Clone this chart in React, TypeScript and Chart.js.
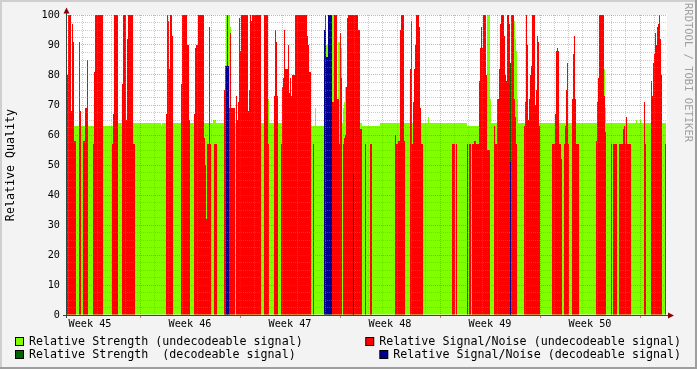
import React, { useEffect, useRef } from "react";
import { Chart, registerables } from "chart.js";

Chart.register(...registerables);

type Run = [number, number | null];

// ---- text ----
const weekLabels: string[] = ["Week 45", "Week 46", "Week 47", "Week 48", "Week 49", "Week 50"];
const yAxisTitle = "Relative Quality";
const watermarkText = "RRDTOOL / TOBI OETIKER";
const seriesNames: string[] = [
  "Relative Strength (undecodeable signal)",
  "Relative Signal/Noise (undecodeable signal)",
  "Relative Strength  (decodeable signal)",
  "Relative Signal/Noise (decodeable signal)",
];

// ---- data: run-length lists [number of samples, value] (null = no data) ----
const strengthUndecodeable: Run[] = [
  [46, 63], [48, 64], [1, 63], [51, 64], [3, 65], [10, 64], [4, 100], [1, 96], [37, 64], [1, 72],
  [42, 64], [4, 63], [1, 69], [10, 63], [2, 90], [4, 63], [2, 100], [4, 64], [2, 91], [1, 94],
  [1, 89], [1, 64], [1, 69], [1, 71], [1, 76], [16, 64], [18, 63], [48, 64], [1, 66], [38, 64],
  [20, 63], [3, 100], [1, 72], [23, 64], [1, 98], [1, 92], [1, 88], [1, 72], [86, 64], [1, 82],
  [1, 69], [30, 64], [1, 65], [3, 64], [1, 65], [25, 64], [1, null],
];

const snrUndecodeable: Run[] = [
  [1, 80], [3, 100], [1, 68], [1, 97], [1, 91], [2, 58], [3, null], [1, 91], [1, 68], [2, null],
  [2, 58], [2, 69], [1, 85], [5, null], [1, 57], [1, 81], [8, 100], [9, null], [1, 57], [1, 67],
  [4, 100], [4, null], [1, 77], [3, 100], [1, 65], [1, 92], [5, 100], [2, 57], [31, null],
  [1, 67], [1, 100], [1, 98], [1, 82], [2, 100], [1, 93], [8, null], [1, 77], [5, 100], [1, 90],
  [1, 90], [1, 65], [4, null], [1, 67], [1, 89], [2, 90], [6, 100], [1, 59], [1, 50], [1, 32],
  [2, 57], [1, 96], [1, 57], [3, null], [3, 57], [7, null], [2, 75], [3, null], [1, 69], [1, 94],
  [4, 69], [1, null], [1, 73], [1, 65], [1, 71], [1, 99], [1, 88], [7, 100], [1, 68], [1, 75],
  [1, 100], [1, 98], [9, 100], [3, null], [4, 100], [1, 57], [5, null], [1, 73], [1, 95], [1, 91],
  [1, 73], [3, null], [1, 57], [1, 76], [1, 79], [1, 95], [3, 82], [1, 90], [1, 74], [1, 79],
  [1, 73], [3, 80], [12, 100], [1, 93], [1, 90], [2, 81], [2, null], [1, 57], [18, null], [2, 71],
  [3, 100], [1, 72], [1, 72], [1, 57], [1, 94], [1, 79], [1, null], [1, 57], [1, 59], [1, 60],
  [1, 76], [1, 99], [10, 100], [2, 95], [2, 62], [3, null], [1, 57], [4, null], [2, 57], [23, null],
  [1, 60], [2, 57], [2, 58], [1, 95], [3, 100], [1, 58], [5, null], [1, 82], [1, 98], [1, 57],
  [1, 71], [1, 82], [1, 90], [3, 100], [1, 96], [1, 69], [2, 57], [29, null], [3, 57], [1, null],
  [1, 57], [10, null], [1, 57], [1, null], [2, 57], [1, null], [2, 57], [2, 58], [3, 57], [1, 78],
  [1, 89], [1, 96], [1, 89], [3, 100], [1, 80], [3, 55], [4, null], [1, 63], [2, 57], [2, 72],
  [1, 82], [1, 97], [3, 100], [1, 93], [1, 80], [1, 78], [2, 100], [1, 97], [1, 80], [3, 100],
  [1, 72], [1, 66], [1, 57], [7, null], [1, 63], [1, 71], [1, 100], [1, 90], [1, 65], [1, 72],
  [1, 80], [1, 83], [3, 100], [1, 70], [1, 75], [1, 93], [1, 91], [1, 63], [12, null], [3, 57],
  [1, 67], [1, 88], [1, 89], [1, 88], [2, 57], [1, 52], [2, null], [1, 57], [1, 63], [1, 75],
  [1, 84], [1, 57], [3, null], [1, 72], [1, 87], [1, 93], [1, 72], [3, 57], [17, null], [1, 58],
  [1, 71], [1, 79], [5, 100], [1, 73], [1, 61], [5, null], [1, 57], [1, null], [4, 57], [2, null],
  [4, 57], [1, 62], [1, 63], [1, 57], [1, 66], [4, 57], [13, null], [1, 71], [1, 57], [5, null],
  [1, 78], [1, 73], [1, 84], [1, 87], [1, 94], [1, 90], [1, 96], [1, 97], [1, 100], [1, 92],
  [1, 80], [3, null], [1, 57], [1, null],
];

const strengthDecodeable: Run[] = [
  [158, null], [1, 83], [1, null], [1, 100], [97, null], [1, 100], [3, null], [1, 100],
  [23, null], [1, 87], [156, null], [1, 84], [156, null],
];

const snrDecodeable: Run[] = [
  [159, null], [3, 83], [95, null], [2, 95], [2, 86], [4, 100], [21, null], [1, 47],
  [156, null], [1, 51], [156, null],
];

// ---- styling / layout (not data) ----
const W = 697;
const H = 369;
const FONT = '"DejaVu Sans Mono", monospace';
const COLORS = ["#80ff00", "#ff0000", "#006400", "#000090"];
const SAMPLES = 600;
const FIRST_WEEK_START = 73; // sample index where the 2nd week starts
const SAMPLES_PER_WEEK = 100;
const MINOR_GRID = "rgba(140,140,140,0.45)";
const MAJOR_GRID = "rgba(200,60,60,0.45)";

function expand(runs: Run[]): { x: number; y: number | null }[] {
  const out: (number | null)[] = [];
  for (const [n, v] of runs) for (let k = 0; k < n; k++) out.push(v);
  while (out.length < SAMPLES) out.push(null);
  return out.slice(0, SAMPLES).map((y, i) => ({ x: i + 0.5, y }));
}

const weekStarts: number[] = [];
for (let v = FIRST_WEEK_START - SAMPLES_PER_WEEK; v <= SAMPLES; v += SAMPLES_PER_WEEK) {
  if (v >= 0) weekStarts.push(v);
}
const dayTicks: number[] = [];
for (let k = -7; k < 60; k++) {
  const v = FIRST_WEEK_START + (k * SAMPLES_PER_WEEK) / 7;
  if (v > 0 && v < SAMPLES) dayTicks.push(v);
}
const weekCenters: number[] = weekLabels.map(
  (_, i) => FIRST_WEEK_START - SAMPLES_PER_WEEK / 2 + i * SAMPLES_PER_WEEK
);

const isNear = (a: number, b: number) => Math.abs(a - b) < 1e-6;

const rrdPlugin = {
  id: "rrdLook",
  beforeDraw(chart: any) {
    const { ctx, chartArea: a } = chart;
    ctx.save();
    ctx.fillStyle = "#f3f3f3";
    ctx.fillRect(0, 0, W, H);
    ctx.fillStyle = "#cfcfcf";
    ctx.fillRect(0, 0, W, 2);
    ctx.fillRect(0, 0, 2, H);
    ctx.fillStyle = "#9e9e9e";
    ctx.fillRect(0, H - 2, W, 2);
    ctx.fillRect(W - 2, 0, 2, H);
    ctx.fillStyle = "#ffffff";
    ctx.fillRect(a.left, a.top, a.right - a.left, a.bottom - a.top);
    ctx.restore();
  },
  afterDraw(chart: any) {
    const { ctx, chartArea: a, scales } = chart;
    ctx.save();
    // major tick marks under the x axis
    ctx.fillStyle = "rgba(200,60,60,0.7)";
    for (const v of weekStarts) {
      const px = Math.round(scales.x.getPixelForValue(v));
      ctx.fillRect(px, a.bottom + 1, 1, 2);
    }
    // axes
    ctx.fillStyle = "#2c4d43";
    ctx.fillRect(a.left - 1, a.top - 4, 1, a.bottom - a.top + 7);
    ctx.fillRect(a.left - 4, a.bottom, a.right - a.left + 5, 1);
    // arrows
    ctx.fillStyle = "#8b0000";
    ctx.beginPath();
    ctx.moveTo(a.left - 3.5, a.top - 1.5);
    ctx.lineTo(a.left + 2.5, a.top - 1.5);
    ctx.lineTo(a.left - 0.5, a.top - 7.5);
    ctx.closePath();
    ctx.fill();
    ctx.beginPath();
    ctx.moveTo(a.right + 1, a.bottom - 2.5);
    ctx.lineTo(a.right + 1, a.bottom + 3.5);
    ctx.lineTo(a.right + 7, a.bottom + 0.5);
    ctx.closePath();
    ctx.fill();

    // legend (two columns, right column right-aligned)
    const ds = chart.data.datasets;
    ctx.font = `11.67px ${FONT}`;
    ctx.textAlign = "left";
    ctx.textBaseline = "alphabetic";
    const item = (i: number, originX: number, baseline: number) => {
      const bx = originX - 14;
      const by = baseline - 8;
      ctx.fillStyle = "#000000";
      ctx.fillRect(bx, by, 9, 9);
      ctx.fillStyle = ds[i].backgroundColor;
      ctx.fillRect(bx + 1, by + 1, 7, 7);
      ctx.fillStyle = "#000000";
      ctx.fillText(ds[i].label, originX, baseline);
    };
    const rightEdge = 681;
    item(0, 29, 345);
    item(1, rightEdge - ctx.measureText(ds[1].label).width, 345);
    item(2, 29, 358);
    item(3, rightEdge - ctx.measureText(ds[3].label).width, 358);

    // vertical credit text on the right
    ctx.font = `10.5px ${FONT}`;
    ctx.fillStyle = "#a0a0a0";
    ctx.translate(687.5, 3);
    ctx.rotate(Math.PI / 2);
    ctx.textBaseline = "middle";
    ctx.fillText(watermarkText, 0, 0);
    ctx.restore();
  },
};

export default function App() {
  const ref = useRef<HTMLCanvasElement | null>(null);

  useEffect(() => {
    document.body.style.margin = "0";
    const canvas = ref.current;
    if (!canvas) return;
    const series = [strengthUndecodeable, snrUndecodeable, strengthDecodeable, snrDecodeable];
    const orders = [4, 3, 2, 1];
    const chart = new Chart(canvas, {
      type: "bar",
      data: {
        datasets: series.map((runs, i) => ({
          label: seriesNames[i],
          data: expand(runs) as any,
          backgroundColor: COLORS[i],
          borderWidth: 0,
          barThickness: 1,
          grouped: false,
          inflateAmount: 0,
          order: orders[i],
        })),
      },
      options: {
        responsive: false,
        devicePixelRatio: 1,
        animation: false,
        events: [],
        layout: { padding: { left: 0, top: 15, right: 30, bottom: 0 } },
        plugins: {
          legend: { display: false },
          tooltip: { enabled: false },
          title: { display: false },
        },
        scales: {
          x: {
            type: "linear",
            min: 0,
            max: SAMPLES,
            offset: false,
            afterBuildTicks: (scale: any) => {
              const vals = [...dayTicks, ...weekCenters].sort((p, q) => p - q);
              scale.ticks = vals.map((v) => ({ value: v }));
            },
            afterFit: (scale: any) => {
              scale.height = H - 315;
            },
            grid: {
              z: 1,
              offset: false,
              drawTicks: false,
              lineWidth: 1,
              color: (ctx: any) => {
                const v = ctx.tick ? ctx.tick.value : -1;
                if (weekCenters.some((c) => isNear(c, v))) return "rgba(0,0,0,0)";
                if (weekStarts.some((c) => isNear(c, v))) return MAJOR_GRID;
                return MINOR_GRID;
              },
            },
            border: { display: false, dash: [1, 1] },
            ticks: {
              autoSkip: false,
              maxRotation: 0,
              minRotation: 0,
              padding: 3,
              color: "#000000",
              font: { family: FONT, size: 10.2 },
              callback: (value: any) => {
                const idx = weekCenters.findIndex((c) => isNear(c, Number(value)));
                return idx >= 0 ? weekLabels[idx] : "";
              },
            },
          },
          y: {
            type: "linear",
            min: 0,
            max: 100,
            afterBuildTicks: (scale: any) => {
              const t: { value: number }[] = [];
              for (let v = 0; v <= 100; v += 2.5) t.push({ value: v });
              scale.ticks = t;
            },
            afterFit: (scale: any) => {
              scale.width = 67;
            },
            grid: {
              z: 1,
              drawTicks: false,
              lineWidth: 1,
              color: (ctx: any) => {
                const v = ctx.tick ? ctx.tick.value : 0;
                return v % 10 === 0 ? MAJOR_GRID : MINOR_GRID;
              },
            },
            border: { display: false, dash: [1, 1] },
            ticks: {
              autoSkip: false,
              padding: 7,
              color: "#000000",
              font: { family: FONT, size: 10.2 },
              callback: (value: any) => (Number(value) % 10 === 0 ? String(value) : ""),
            },
            title: {
              display: true,
              text: yAxisTitle,
              color: "#000000",
              font: { family: FONT, size: 11.67 },
              padding: { top: 4, bottom: 0 },
            },
          },
        },
      },
      plugins: [rrdPlugin],
    } as any);
    return () => chart.destroy();
  }, []);

  return (
    <canvas
      ref={ref}
      width={W}
      height={H}
      style={{ display: "block", width: W, height: H }}
    />
  );
}
